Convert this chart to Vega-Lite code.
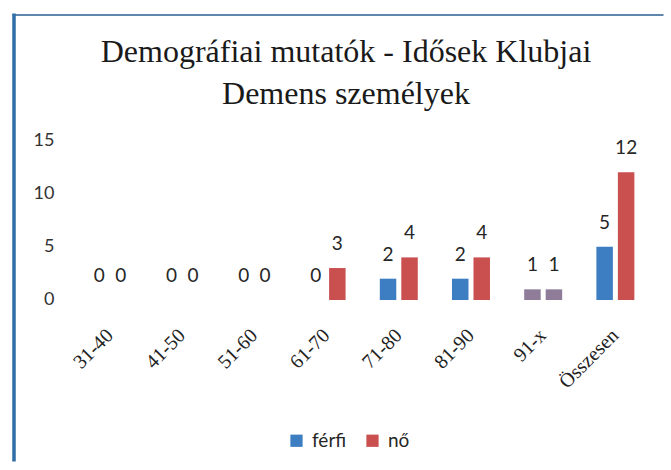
{
  "$schema": "https://vega.github.io/schema/vega-lite/v6.json",
  "width": 651,
  "height": 448,
  "autosize": {"type": "none"},
  "padding": {"left": 12, "top": 13, "right": 8, "bottom": 9},
  "background": "white",
  "config": {"view": {"stroke": null}},
  "title": {
    "text": ["Demográfiai mutatók - Idősek Klubjai", "Demens személyek"],
    "font": "Liberation Serif",
    "fontSize": 32,
    "fontWeight": "normal",
    "color": "#1a1a1a",
    "lineHeight": 42,
    "anchor": "middle",
    "baseline": "top",
    "offset": 0,
    "dx": 8.5,
    "dy": 98
  },
  "data": {
    "values": [
      {"group": "31-40", "sex": "férfi", "value": 0},
      {"group": "31-40", "sex": "nő", "value": 0},
      {"group": "41-50", "sex": "férfi", "value": 0},
      {"group": "41-50", "sex": "nő", "value": 0},
      {"group": "51-60", "sex": "férfi", "value": 0},
      {"group": "51-60", "sex": "nő", "value": 0},
      {"group": "61-70", "sex": "férfi", "value": 0},
      {"group": "61-70", "sex": "nő", "value": 3},
      {"group": "71-80", "sex": "férfi", "value": 2},
      {"group": "71-80", "sex": "nő", "value": 4},
      {"group": "81-90", "sex": "férfi", "value": 2},
      {"group": "81-90", "sex": "nő", "value": 4},
      {"group": "91-x", "sex": "férfi", "value": 1},
      {"group": "91-x", "sex": "nő", "value": 1},
      {"group": "Összesen", "sex": "férfi", "value": 5},
      {"group": "Összesen", "sex": "nő", "value": 12}
    ]
  },
  "layer": [
    {
      "mark": {"type": "bar"},
      "encoding": {
        "x": {
          "field": "group",
          "type": "nominal",
          "sort": null,
          "scale": {"paddingInner": 0.474, "paddingOuter": 0.7455, "align": 0.734},
          "axis": {
            "orient": "bottom",
            "offset": -129,
            "title": null,
            "domain": false,
            "ticks": false,
            "tickSize": 0,
            "grid": false,
            "labelPadding": 0,
            "labelAngle": -45,
            "labelAlign": "right",
            "labelBaseline": "middle",
            "labelFont": "Liberation Serif",
            "labelFontSize": 20,
            "labelColor": "#222222"
          }
        },
        "xOffset": {"field": "sex", "type": "nominal", "sort": ["férfi", "nő"], "scale": {"paddingInner": 0.233, "paddingOuter": 0}},
        "y": {
          "field": "value",
          "type": "quantitative",
          "scale": {"domain": [-15.12, 26.95], "nice": false, "zero": false},
          "axis": {
            "orient": "left",
            "offset": -42,
            "values": [0, 5, 10, 15],
            "title": null,
            "domain": false,
            "ticks": false,
            "tickSize": 0,
            "grid": false,
            "labelPadding": 0,
            "labelFont": "Lato",
            "labelFontSize": 18,
            "labelColor": "#333333"
          }
        },
        "y2": {"datum": 0},
        "color": {
          "field": "sex",
          "type": "nominal",
          "scale": {"domain": ["férfi", "nő"], "range": ["#3d7ec2", "#c9504e"]},
          "condition": {"test": "datum.group === '91-x'", "value": "#8e7c98"},
          "legend": {
            "orient": "none",
            "legendX": 275,
            "legendY": 418,
            "direction": "horizontal",
            "title": null,
            "symbolType": "square",
            "symbolSize": 150,
            "symbolStrokeWidth": 0,
            "labelFont": "Lato",
            "labelFontSize": 19,
            "labelColor": "#262626",
            "labelOffset": 6,
            "columnPadding": 16
          }
        }
      }
    },
    {
      "mark": {"type": "text", "baseline": "alphabetic", "dy": -18, "font": "Lato", "fontSize": 19, "color": "#262626"},
      "encoding": {
        "x": {
          "field": "group",
          "type": "nominal",
          "sort": null,
          "axis": {
            "orient": "top",
            "offset": -1.5,
            "title": null,
            "domain": true,
            "domainColor": "#5f86ad",
            "domainWidth": 2,
            "labels": false,
            "ticks": false,
            "grid": false
          }
        },
        "xOffset": {"field": "sex", "type": "nominal", "sort": ["férfi", "nő"]},
        "y": {
          "field": "value",
          "type": "quantitative",
          "axis": {
            "orient": "right",
            "offset": -649.5,
            "title": null,
            "domain": true,
            "domainColor": "#2f6ea6",
            "domainWidth": 3.5,
            "labels": false,
            "ticks": false,
            "grid": false
          }
        },
        "text": {"field": "value", "type": "quantitative"}
      }
    }
  ],
  "resolve": {"axis": {"x": "independent", "y": "independent"}}
}
